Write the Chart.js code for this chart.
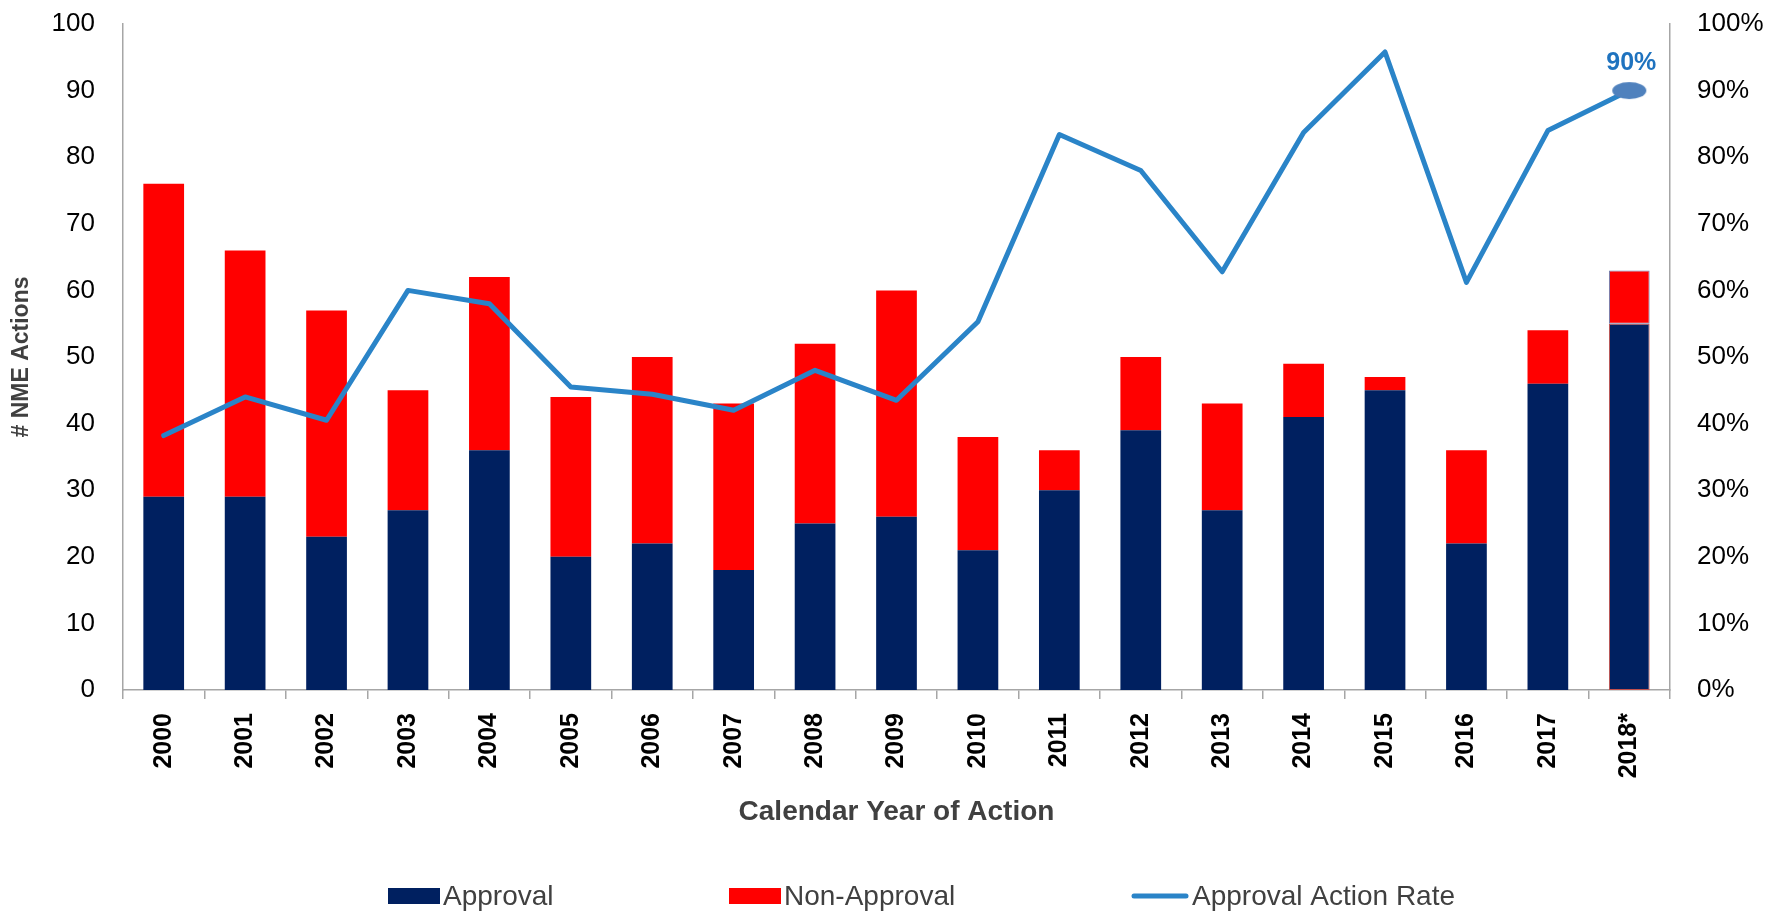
<!DOCTYPE html>
<html>
<head>
<meta charset="utf-8">
<script src="https://cdn.jsdelivr.net/npm/chart.js@4.4.0/dist/chart.umd.min.js"></script>
<style>
  html, body { margin: 0; padding: 0; background: #fff; }
</style>
</head>
<body>
<canvas id="my-chart" width="1771" height="911"></canvas>
<script>
const years = ['2000', '2001', '2002', '2003', '2004', '2005', '2006', '2007', '2008', '2009',
  '2010', '2011', '2012', '2013', '2014', '2015', '2016', '2017', '2018*']
const approvals = [29, 29, 23, 27, 36, 20, 22, 18, 25, 26, 21, 30, 39, 27, 41, 45, 22, 46, 55]
const nonApprovals = [47, 37, 34, 18, 26, 24, 28, 25, 27, 34, 17, 6, 11, 16, 8, 2, 14, 8, 8]
const approvalRate = [38.2, 44, 40.5, 60, 58, 45.5, 44.4, 42, 48, 43.5, 55.3, 83.4, 78, 62.8, 83.7, 95.8, 61.2, 84, 90]

const axisGray = '#a6a6a6'
const navy = '#002060'
const red = '#ff0000'
const lineBlue = '#2a84c8'
const lastIndex = years.length - 1
const fontFamily = '"Liberation Sans", Arial, sans-serif'

// ellipse marker on the last point of the rate line
const dot = document.createElement('canvas')
dot.width = 36
dot.height = 19
const dctx = dot.getContext('2d')
dctx.fillStyle = '#4f81bd'
dctx.beginPath()
dctx.ellipse(18, 9.5, 17, 8.5, 0, 0, Math.PI * 2)
dctx.fill()

const lastLabel = {
  id: 'lastLabel',
  afterDatasetsDraw(chart) {
    const pt = chart.getDatasetMeta(2).data[lastIndex]
    const c = chart.ctx
    c.save()
    c.font = 'bold 25px ' + fontFamily
    c.fillStyle = '#1f73bf'
    c.textAlign = 'center'
    c.textBaseline = 'middle'
    c.fillText(Math.round(approvalRate[lastIndex]) + '%', pt.x + 2, pt.y - 27)
    c.restore()
  }
}

const bottomLegend = {
  id: 'bottomLegend',
  afterDraw(chart) {
    const c = chart.ctx
    const ds = chart.data.datasets
    const y = 896
    c.save()
    c.font = '28px ' + fontFamily
    c.textBaseline = 'middle'
    c.textAlign = 'left'
    c.fillStyle = ds[0].backgroundColor
    c.fillRect(388, y - 8, 52, 16)
    c.fillStyle = ds[1].backgroundColor
    c.fillRect(729, y - 8, 52, 16)
    c.strokeStyle = ds[2].borderColor
    c.lineWidth = 5
    c.lineCap = 'round'
    c.beginPath()
    c.moveTo(1134, y)
    c.lineTo(1186, y)
    c.stroke()
    c.fillStyle = '#404040'
    c.fillText(ds[0].label, 443, y + 1)
    c.fillText(ds[1].label, 784, y + 1)
    c.fillText(ds[2].label, 1192, y + 1)
    c.restore()
  }
}

const ctx = document.getElementById('my-chart').getContext('2d')
const chart = new Chart(ctx, {
  type: 'bar',
  data: {
    labels: years,
    datasets: [
      {
        label: 'Approval',
        data: approvals,
        backgroundColor: navy,
        borderColor: c => c.dataIndex === lastIndex ? '#c0504d' : navy,
        borderWidth: c => c.dataIndex === lastIndex ? 1 : 0,
        borderSkipped: false,
        yAxisID: 'count',
        stack: 'actions',
        order: 1,
        barPercentage: 0.5,
        categoryPercentage: 1.0
      },
      {
        label: 'Non-Approval',
        data: nonApprovals,
        backgroundColor: red,
        borderColor: c => c.dataIndex === lastIndex ? '#6c7fb0' : red,
        borderWidth: c => c.dataIndex === lastIndex ? 1 : 0,
        borderSkipped: false,
        yAxisID: 'count',
        stack: 'actions',
        order: 1,
        barPercentage: 0.5,
        categoryPercentage: 1.0
      },
      {
        type: 'line',
        label: 'Approval Action Rate',
        data: approvalRate,
        yAxisID: 'rate',
        borderColor: lineBlue,
        backgroundColor: lineBlue,
        borderWidth: 5,
        borderJoinStyle: 'round',
        borderCapStyle: 'round',
        tension: 0,
        fill: false,
        pointRadius: c => c.dataIndex === lastIndex ? 10 : 0,
        pointHoverRadius: 0,
        pointStyle: c => c.dataIndex === lastIndex ? dot : 'circle',
        order: 0
      }
    ]
  },
  options: {
    responsive: false,
    animation: false,
    layout: { autoPadding: false, padding: { top: 24, bottom: 60, left: 0, right: 0 } },
    plugins: {
      legend: { display: false },
      tooltip: { enabled: false }
    },
    scales: {
      x: {
        grid: {
          display: true,
          drawOnChartArea: false,
          drawTicks: true,
          tickLength: 9,
          color: axisGray,
          lineWidth: 1.5,
          offset: true
        },
        border: { display: true, color: axisGray, width: 1.5 },
        ticks: {
          minRotation: 90,
          maxRotation: 90,
          padding: 14,
          color: '#000',
          font: { family: fontFamily, size: 25, weight: 'bold' }
        },
        title: {
          display: true,
          text: 'Calendar Year of Action',
          color: '#404040',
          font: { family: fontFamily, size: 28, weight: 'bold' },
          padding: { top: 0, bottom: 22 }
        },
        afterFit: scale => { scale.height = 161 }
      },
      count: {
        type: 'linear',
        position: 'left',
        min: 0,
        max: 100,
        // no tick marks are drawn; tickLength only spaces the labels from the axis
        grid: { display: false, drawTicks: true, tickLength: 28 },
        border: { display: true, color: axisGray, width: 1.5 },
        ticks: {
          stepSize: 10,
          padding: 0,
          color: '#000',
          font: { family: fontFamily, size: 26 }
        },
        title: {
          display: true,
          text: '# NME Actions',
          color: '#404040',
          font: { family: fontFamily, size: 23, weight: 'bold' },
          padding: { top: 8, bottom: 0 }
        },
        afterFit: scale => { scale.width = 123 }
      },
      rate: {
        type: 'linear',
        position: 'right',
        min: 0,
        max: 100,
        grid: { display: false, drawTicks: true, tickLength: 27 },
        border: { display: true, color: axisGray, width: 1.5 },
        ticks: {
          stepSize: 10,
          padding: 0,
          color: '#000',
          font: { family: fontFamily, size: 26 },
          callback: v => v + '%'
        },
        afterFit: scale => { scale.width = 101 }
      }
    }
  },
  plugins: [lastLabel, bottomLegend]
})
</script>
</body>
</html>
